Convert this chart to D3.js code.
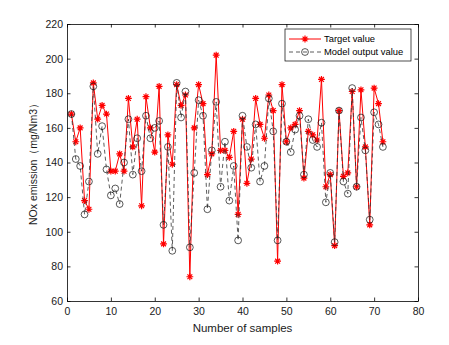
<!DOCTYPE html>
<html>
<head>
<meta charset="utf-8">
<script src="https://cdn.jsdelivr.net/npm/d3@7"></script>
<style>
  body { margin: 0; background: #fff; }
  svg { display: block; font-family: Arial, "Liberation Sans", sans-serif; }
  .axis path, .axis line { stroke: #000; stroke-width: 0.8; }
  .axis text { fill: #1a1a1a; font-size: 10.5px; }
</style>
</head>
<body>
<svg id="chart" width="449" height="345"></svg>
<script>
'use strict';

var samples = d3.range( 1, 73 );

var targetValues = [
  168, 152, 160, 118, 113, 186, 165, 173, 168, 135, 135, 145,
  135, 177, 149, 165, 115, 178, 160, 146, 184,  93, 156, 139,
  185, 173, 179,  74, 160, 185, 174, 133, 145, 202, 147, 147,
  143, 158, 110, 165, 128, 142, 177, 162, 154, 179, 170,  83,
  185, 152, 160, 162, 170, 131, 158, 156, 153, 188, 126, 133,
   92, 170, 132, 134, 181, 126, 182, 149, 104, 183, 174, 152 ];

var modelValues = [
  168, 142, 138, 110, 129, 184, 145, 161, 136, 121, 125, 116,
  140, 165, 133, 154, 135, 167, 154, 160, 164, 104, 149,  89,
  186, 166, 181,  91, 134, 176, 167, 113, 147, 175, 126, 152,
  118, 138,  95, 167, 149, 137, 162, 129, 138, 177, 158,  95,
  174, 152, 146, 159, 167, 133, 165, 153, 149, 163, 117, 134,
   94, 170, 129, 122, 183, 126, 166, 147, 107, 169, 162, 149 ];

var xTicks = [ 0, 10, 20, 30, 40, 50, 60, 70, 80 ],
    yTicks = [ 60, 80, 100, 120, 140, 160, 180, 200, 220 ];

var seriesNames = [ 'Target value', 'Model output value' ];

var red  = '#ff0000',
    dark = '#333';

var margin = { top: 24, right: 31, bottom: 44, left: 67 },
    width  = 449 - margin.left - margin.right,
    height = 345 - margin.top - margin.bottom;

var svg = d3.select( '#chart' );
svg.append( 'rect' )
  .attr( 'width', 449 ).attr( 'height', 345 ).attr( 'fill', '#fff' );

var g = svg.append( 'g' )
  .attr( 'transform', 'translate(' + margin.left + ',' + margin.top + ')' );

var x = d3.scaleLinear().domain( [ 0, 80 ] ).range( [ 0, width ] ),
    y = d3.scaleLinear().domain( [ 60, 220 ] ).range( [ height, 0 ] );

// MATLAB style box: ticks point inward on all four sides.
var tick = 3.5;
g.append( 'g' ).attr( 'class', 'axis' )
  .attr( 'transform', 'translate(0,' + height + ')' )
  .call( d3.axisBottom( x ).tickValues( xTicks ).tickSizeInner( -tick ).tickSizeOuter( 0 ).tickPadding( 7 ) );
g.append( 'g' ).attr( 'class', 'axis' )
  .call( d3.axisLeft( y ).tickValues( yTicks ).tickSizeInner( -tick ).tickSizeOuter( 0 ).tickPadding( 4 ) );
g.append( 'g' ).attr( 'class', 'axis' )
  .call( d3.axisTop( x ).tickValues( xTicks ).tickSizeInner( -tick ).tickSizeOuter( 0 ) )
  .selectAll( 'text' ).remove();
g.append( 'g' ).attr( 'class', 'axis' )
  .attr( 'transform', 'translate(' + width + ',0)' )
  .call( d3.axisRight( y ).tickValues( yTicks ).tickSizeInner( -tick ).tickSizeOuter( 0 ) )
  .selectAll( 'text' ).remove();

function starPath( r ) {
  var d = r * Math.SQRT1_2;
  return 'M' + -r + ',0H' + r + 'M0,' + -r + 'V' + r +
    'M' + -d + ',' + -d + 'L' + d + ',' + d +
    'M' + -d + ',' + d + 'L' + d + ',' + -d;
}

function line( values ) {
  return d3.line()
    .x( function( d, i ) { return x( samples[ i ] ); } )
    .y( function( d ) { return y( d ); } )( values );
}

// Target series: solid red with asterisks.
g.append( 'path' )
  .attr( 'd', line( targetValues ) )
  .attr( 'fill', 'none' )
  .attr( 'stroke', red )
  .attr( 'stroke-width', 1 );

g.append( 'g' ).selectAll( 'path' )
  .data( targetValues )
  .join( 'path' )
    .attr( 'transform', function( d, i ) {
      return 'translate(' + x( samples[ i ] ) + ',' + y( d ) + ')';
    })
    .attr( 'd', starPath( 3.4 ) )
    .attr( 'stroke', red )
    .attr( 'stroke-width', 1.2 );

// Model series: dashed dark line with open circles.
g.append( 'path' )
  .attr( 'd', line( modelValues ) )
  .attr( 'fill', 'none' )
  .attr( 'stroke', dark )
  .attr( 'stroke-width', 0.8 )
  .attr( 'stroke-dasharray', '4,3' );

g.append( 'g' ).selectAll( 'circle' )
  .data( modelValues )
  .join( 'circle' )
    .attr( 'cx', function( d, i ) { return x( samples[ i ] ); } )
    .attr( 'cy', function( d ) { return y( d ); } )
    .attr( 'r', 3.4 )
    .attr( 'fill', 'none' )
    .attr( 'stroke', '#111' )
    .attr( 'stroke-width', 0.7 );

// Axis labels.
svg.append( 'text' )
  .attr( 'x', margin.left + width / 2 )
  .attr( 'y', 332 )
  .attr( 'text-anchor', 'middle' )
  .style( 'font-size', '11.5px' )
  .attr( 'fill', '#1a1a1a' )
  .text( 'Number of samples' );

svg.append( 'text' )
  .attr( 'transform', 'translate(37,' + ( margin.top + height / 2 - 1 ) + ') rotate(-90)' )
  .attr( 'text-anchor', 'middle' )
  .style( 'font-size', '10.5px' )
  .attr( 'fill', '#1a1a1a' )
  .text( 'NOx emission（mg/Nm3）' );

// Legend.
var legend = svg.append( 'g' ).attr( 'transform', 'translate(285,29)' );
legend.append( 'rect' )
  .attr( 'width', 126 ).attr( 'height', 32 )
  .attr( 'fill', '#fff' ).attr( 'stroke', '#000' ).attr( 'stroke-width', 0.7 );

var rows = legend.selectAll( 'g.row' )
  .data( seriesNames )
  .join( 'g' )
    .attr( 'class', 'row' )
    .attr( 'transform', function( d, i ) { return 'translate(0,' + ( 10 + i * 13 ) + ')'; } );

rows.append( 'line' )
  .attr( 'x1', 4 ).attr( 'x2', 36 )
  .attr( 'stroke', function( d, i ) { return i ? dark : red; } )
  .attr( 'stroke-width', function( d, i ) { return i ? 0.8 : 1; } )
  .attr( 'stroke-dasharray', function( d, i ) { return i ? '4,3' : null; } );

rows.filter( function( d, i ) { return i === 0; } )
  .append( 'path' )
    .attr( 'transform', 'translate(20,0)' )
    .attr( 'd', starPath( 3.4 ) )
    .attr( 'stroke', red )
    .attr( 'stroke-width', 1.2 );

rows.filter( function( d, i ) { return i === 1; } )
  .append( 'circle' )
    .attr( 'cx', 20 ).attr( 'r', 3.4 )
    .attr( 'fill', 'none' ).attr( 'stroke', '#111' ).attr( 'stroke-width', 0.7 );

rows.append( 'text' )
  .attr( 'x', 39 )
  .attr( 'dy', '0.35em' )
  .style( 'font-size', '9.4px' )
  .attr( 'fill', '#000' )
  .text( function( d ) { return d; } );
</script>
</body>
</html>
